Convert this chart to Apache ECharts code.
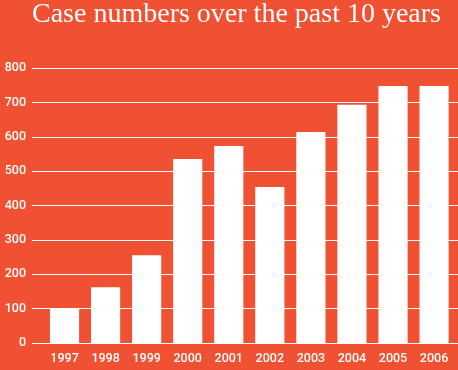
<!DOCTYPE html>
<html><head><meta charset="utf-8">
<script src="https://cdn.jsdelivr.net/npm/echarts@6/dist/echarts.min.js"></script>
<style>html,body{margin:0;padding:0;background:#f05133}#c{width:458px;height:370px}</style>
</head><body><div id="c"></div>
<script>
var years = ['1997','1998','1999','2000','2001','2002','2003','2004','2005','2006'];
var cases = [100, 162, 255, 535, 573, 454, 614, 693, 748, 748];
var yMin = 0, yMax = 800, yStep = 100;

var chart = echarts.init(document.getElementById('c'));
var lbl = { color: '#fff', fontFamily: 'Roboto', fontWeight: 500, fontSize: 12.5 };
chart.setOption({
  backgroundColor: '#f05133',
  animation: false,
  title: {
    text: 'Case numbers over the past 10 years',
    left: 32, top: 1, padding: 0,
    textStyle: { color: '#fff', fontFamily: 'Liberation Serif', fontWeight: 'normal', fontSize: 28 }
  },
  grid: [
    { left: 32, right: 0, top: 68, bottom: 27 },
    { left: 44, right: 3.4, top: 68, bottom: 27 }
  ],
  xAxis: [
    { type: 'category', gridIndex: 0, data: years, show: false },
    { type: 'category', gridIndex: 1, data: years,
      axisLine: { show: false }, axisTick: { show: false },
      axisLabel: Object.assign({ margin: 9 }, lbl) }
  ],
  yAxis: [
    { type: 'value', gridIndex: 0, min: yMin, max: yMax, interval: yStep,
      axisLine: { show: false }, axisTick: { show: false },
      axisLabel: Object.assign({ margin: 6 }, lbl),
      splitLine: { lineStyle: { color: '#fff', width: 1 } } },
    { type: 'value', gridIndex: 1, min: yMin, max: yMax, interval: yStep, show: false }
  ],
  series: [{
    type: 'bar', xAxisIndex: 1, yAxisIndex: 1, data: cases,
    barCategoryGap: '29%',
    itemStyle: { color: '#fff' }
  }]
});
</script></body></html>
